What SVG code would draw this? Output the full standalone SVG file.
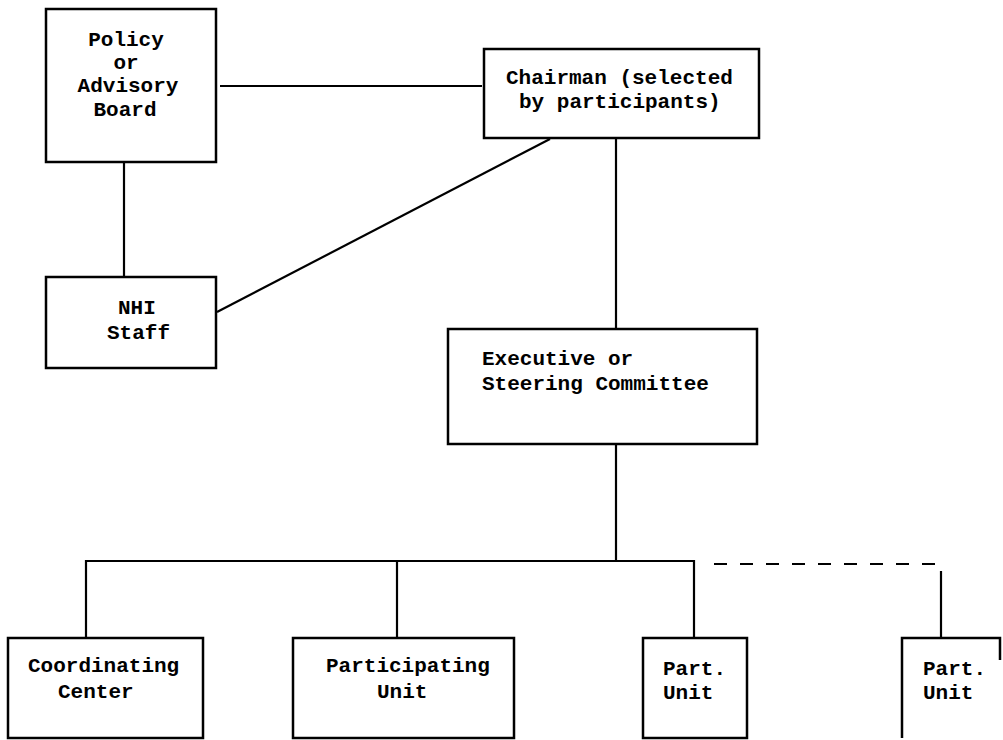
<svg xmlns="http://www.w3.org/2000/svg" width="1003" height="740" viewBox="0 0 1003 740">
<style>
.box{fill:none;stroke:#000;stroke-width:2.5}
.ln{fill:none;stroke:#000;stroke-width:2.2}
.dash{fill:none;stroke:#000;stroke-width:2.2;stroke-dasharray:13 13}
text{font-family:"Liberation Mono","DejaVu Sans Mono",monospace;font-weight:bold;font-size:21px;fill:#000}
.m{text-anchor:middle}
</style>
<rect width="1003" height="740" fill="#fff"/>
<g id="connectors">
<line class="ln" x1="220" y1="86" x2="482" y2="86"/>
<line class="ln" x1="124" y1="162" x2="124" y2="277"/>
<line class="ln" x1="217" y1="312" x2="550" y2="139"/>
<line class="ln" x1="616" y1="138" x2="616" y2="329"/>
<line class="ln" x1="616" y1="444" x2="616" y2="561"/>
<polyline class="ln" points="86,638 86,561 694,561 694,638"/>
<line class="ln" x1="397" y1="561" x2="397" y2="638"/>
<line class="dash" x1="714" y1="564" x2="936" y2="564"/>
<line class="ln" x1="941" y1="571" x2="941" y2="638"/>
</g>
<g id="policy-board">
<rect class="box" x="46" y="9" width="170" height="153"/>
<text class="m" x="126" y="46">Policy</text>
<text class="m" x="126" y="69">or</text>
<text class="m" x="128" y="92">Advisory</text>
<text class="m" x="125" y="116">Board</text>
</g>
<g id="chairman">
<rect class="box" x="484" y="49" width="275" height="89"/>
<text x="506" y="84">Chairman (selected</text>
<text x="519" y="108">by participants)</text>
</g>
<g id="nhi-staff">
<rect class="box" x="46" y="277" width="170" height="91"/>
<text x="118" y="314">NHI</text>
<text x="107" y="339">Staff</text>
</g>
<g id="executive-committee">
<rect class="box" x="448" y="329" width="309" height="115"/>
<text x="482" y="365">Executive or</text>
<text x="482" y="390">Steering Committee</text>
</g>
<g id="coordinating-center">
<rect class="box" x="8" y="638" width="195" height="100"/>
<text x="28" y="672">Coordinating</text>
<text x="58" y="698">Center</text>
</g>
<g id="participating-unit">
<rect class="box" x="293" y="638" width="221" height="100"/>
<text x="326" y="672">Participating</text>
<text x="377" y="698">Unit</text>
</g>
<g id="part-unit-1">
<rect class="box" x="643" y="638" width="104" height="100"/>
<text x="663" y="675">Part.</text>
<text x="663" y="699">Unit</text>
</g>
<g id="part-unit-2">
<path class="box" d="M902,738 V638 H1000 V660"/>
<text x="923" y="675">Part.</text>
<text x="923" y="699">Unit</text>
</g>
</svg>
